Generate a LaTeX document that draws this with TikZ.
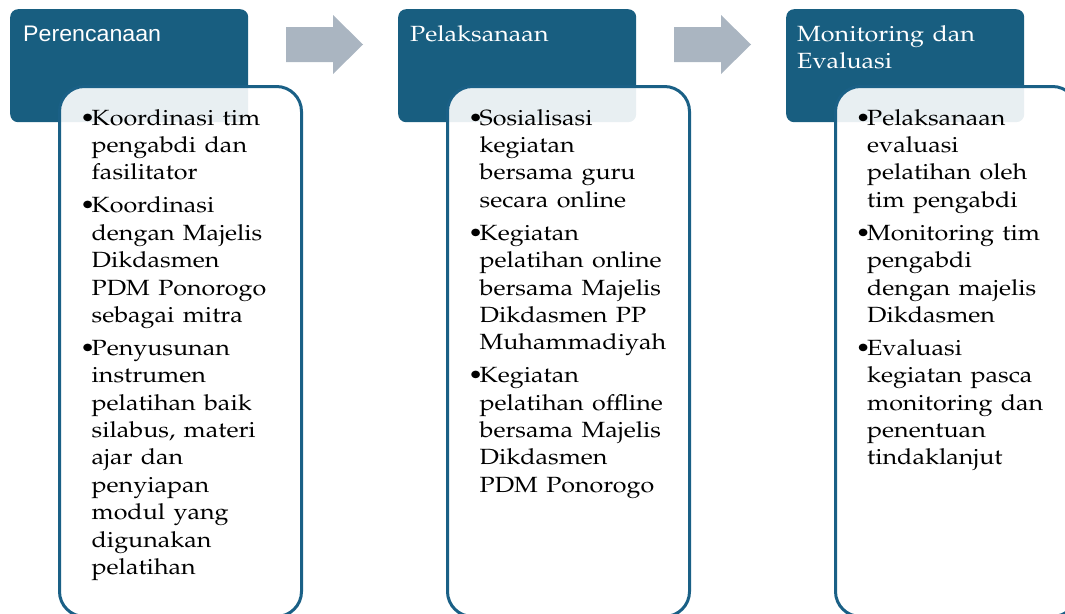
\documentclass[tikz,border=0pt]{standalone}
\usepackage[T1]{fontenc}
\usepackage{fontspec}
\newfontfamily\hsans{Liberation Sans}
\newcommand\pala{\fontencoding{T1}\fontfamily{ppl}\selectfont}
\definecolor{hdr}{RGB}{24,94,128}
\definecolor{bord}{RGB}{26,96,134}
\definecolor{arr}{RGB}{170,181,193}
\newlength\bind \setlength\bind{10pt}
\newcommand\bitem[1]{\par\hangindent=\bind\hangafter=1\noindent\makebox[\bind][l]{\textbullet}#1\par}
\newcommand\firstline{\rule{0pt}{20pt}}
\tikzset{
  headbox/.style={fill=hdr, rounded corners=8pt, minimum width=238pt, minimum height=113pt, anchor=north west, inner sep=0pt},
  bodybox/.style={draw=bord, line width=3pt, fill=white, fill opacity=0.9, draw opacity=1, rounded corners=25pt, minimum width=242pt, minimum height=530pt, anchor=north west, inner sep=0pt},
  bodytext/.style={anchor=north west, inner sep=0pt, text width=190pt, transform shape, xscale=1.14,
     font=\pala\fontsize{22}{27.4}\selectfont, execute at begin node={\setlength\parskip{5.5pt}}},
  headtext/.style={anchor=north west, inner sep=0pt, text width=190pt, text=white, transform shape, xscale=1.14,
     font=\pala\fontsize{22}{27}\selectfont},
  sanshead/.style={anchor=base west, inner sep=0pt, text=white, transform shape, xscale=1.03,
     font=\hsans\fontsize{22.5}{27}\selectfont},
  arrowshape/.style={fill=arr}
}
\begin{document}
\begin{tikzpicture}[x=1pt,y=-1pt]
\useasboundingbox (0,0) rectangle (1065,613);
\clip (0,0) rectangle (1065,613);
% headers
\node[headbox] (h1) at (10,9) {};
\node[headbox] (h2) at (398,9) {};
\node[headbox] (h3) at (786,9) {};
% arrows
\fill[arrowshape] (286,27) -- (333,27) -- (333,15) -- (363,44.5) -- (333,74) -- (333,62) -- (286,62) -- cycle;
\fill[arrowshape] (674,27) -- (721,27) -- (721,15) -- (751,44.5) -- (721,74) -- (721,62) -- (674,62) -- cycle;
% bodies
\node[bodybox] (b1) at (58,85) {};
\node[bodybox] (b2) at (446,85) {};
\node[bodybox] (b3) at (834,85) {};
% header texts
\begin{scope}[shift={(23,41)}]
\node[sanshead] (ht1) at (0,0) {Perencanaan};
\end{scope}
\begin{scope}[shift={(410,21)}]
\node[headtext] (ht2) at (0,0) {\noindent\firstline Pelaksanaan};
\end{scope}
\begin{scope}[shift={(797,21)}]
\node[headtext] (ht3) at (0,0) {\noindent\firstline Monitoring dan\newline Evaluasi};
\end{scope}
% body texts
\begin{scope}[shift={(80,92)}]
\node[bodytext] (t1) at (0,0) {%
\bitem{\firstline Koordinasi tim\newline pengabdi dan\newline fasilitator}%
\bitem{Koordinasi\newline dengan Majelis\newline Dikdasmen\newline PDM Ponorogo\newline sebagai mitra}%
\bitem{Penyusunan\newline instrumen\newline pelatihan baik\newline silabus, materi\newline ajar dan\newline penyiapan\newline modul yang\newline digunakan\newline pelatihan}};
\end{scope}
\begin{scope}[shift={(468,92)}]
\node[bodytext] (t2) at (0,0) {%
\bitem{\firstline Sosialisasi\newline kegiatan\newline bersama guru\newline secara online}%
\bitem{Kegiatan\newline pelatihan online\newline bersama Majelis\newline Dikdasmen PP\newline Muhammadiyah}%
\bitem{Kegiatan\newline pelatihan offline\newline bersama Majelis\newline Dikdasmen\newline PDM Ponorogo}};
\end{scope}
\begin{scope}[shift={(855.5,92)}]
\node[bodytext] (t3) at (0,0) {%
\bitem{\firstline Pelaksanaan\newline evaluasi\newline pelatihan oleh\newline tim pengabdi}%
\bitem{Monitoring tim\newline pengabdi\newline dengan majelis\newline Dikdasmen}%
\bitem{Evaluasi\newline kegiatan pasca\newline monitoring dan\newline penentuan\newline tindaklanjut}};
\end{scope}
\end{tikzpicture}
\end{document}
